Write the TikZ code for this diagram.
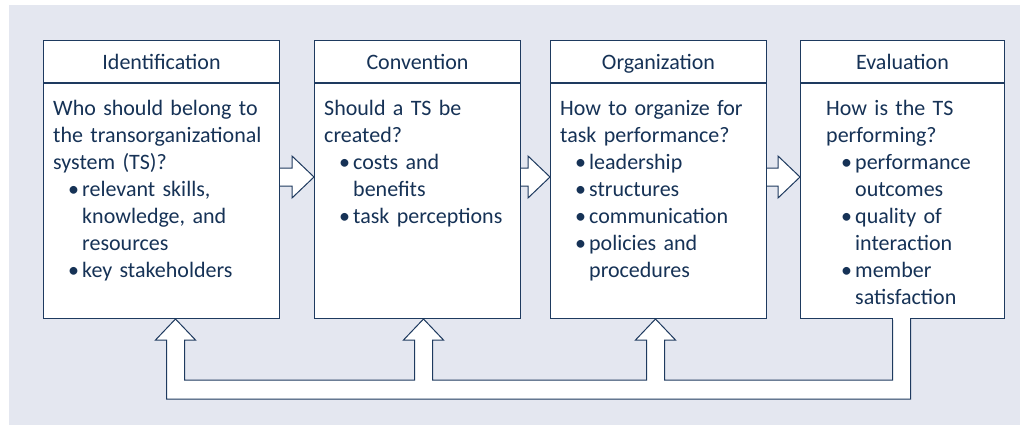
\documentclass[tikz,border=0pt]{standalone}
\usepackage{fontspec}
\setmainfont{Carlito}
\usetikzlibrary{positioning, calc}
\definecolor{tsnavy}{RGB}{22,50,86}
\definecolor{tsline}{RGB}{30,58,95}
\definecolor{tsback}{RGB}{228,231,240}
\newcommand{\tsbul}{\hspace*{15pt}\makebox[14pt][l]{\textbullet}}
\newcommand{\tsind}{\hspace*{29pt}}
\tikzset{
title/.style={
    draw=tsline,
    fill=white,
    line width=1pt,
    minimum height=42pt,
    inner sep=0pt,
    text height=20pt,
    text depth=4pt,
    text=tsnavy,
    font=\fontsize{22}{24}\selectfont
},
frame/.style={
    draw=tsline,
    fill=white,
    line width=1pt,
    minimum height=235pt,
    inner sep=0pt
},
bodytext/.style={
    anchor=base west,
    inner sep=0pt,
    align=left,
    text width=220pt,
    text=tsnavy,
    font=\fontsize{22}{27}\selectfont
},
blockarrow/.style={
    draw=tsline,
    fill=white,
    line width=1pt,
    line join=miter
}
}

\begin{document}
\begin{tikzpicture}[x=1pt, y=1pt]

\useasboundingbox (0,0) rectangle (1020,-425);
\fill[tsback] (9,-5) rectangle (1020,-425);

% TITLES
\node[title, minimum width=236pt, anchor=north west] (ident) at (43,-40) {Identification};
\node[title, minimum width=206pt, right=34pt of ident] (conv) {Convention};
\node[title, minimum width=216pt, right=29pt of conv] (org) {Organization};
\node[title, minimum width=204pt, right=33pt of org] (eval) {Evaluation};

% FRAMES
\node[frame, minimum width=236pt, below=0pt of ident] (identbox) {};
\node[frame, minimum width=206pt, below=0pt of conv] (convbox) {};
\node[frame, minimum width=216pt, below=0pt of org] (orgbox) {};
\node[frame, minimum width=204pt, below=0pt of eval] (evalbox) {};

% TEXTS
\node[bodytext] (identtext) at ($(identbox.north west)+(10,-33)$) {
Who should belong to\\
the transorganizational\\
system (TS)?\\
\tsbul relevant skills,\\
\tsind knowledge, and\\
\tsind resources\\
\tsbul key stakeholders
};
\node[bodytext] (convtext) at ($(convbox.north west)+(10,-33)$) {
Should a TS be\\
created?\\
\tsbul costs and\\
\tsind benefits\\
\tsbul task perceptions
};
\node[bodytext] (orgtext) at ($(orgbox.north west)+(10,-33)$) {
How to organize for\\
task performance?\\
\tsbul leadership\\
\tsbul structures\\
\tsbul communication\\
\tsbul policies and\\
\tsind procedures
};
\node[bodytext] (evaltext) at ($(evalbox.north west)+(26,-33)$) {
How is the TS\\
performing?\\
\tsbul performance\\
\tsind outcomes\\
\tsbul quality of\\
\tsind interaction\\
\tsbul member\\
\tsind satisfaction
};

% ARROWS BETWEEN STAGES
\foreach \a/\b in {ident/conv, conv/org, org/eval} {
    \coordinate (\a out) at ($(\a box.north east)+(0,-94)$);
    \coordinate (\a tip) at (\a out -| \b box.west);
    \draw[blockarrow] ($(\a out)+(0,9)$) -- ($(\a tip)+(-22,9)$) -- ++(0,12)
        -- (\a tip) -- ($(\a tip)+(-22,-21)$) -- ++(0,12) -- ($(\a out)+(0,-9)$);
}

% FEEDBACK LOOP
\coordinate (fb1) at ($(identbox.south)+(14,0)$);
\coordinate (fb2) at ($(convbox.south)+(6,0)$);
\coordinate (fb3) at ($(orgbox.south)+(-3,0)$);
\coordinate (fb4) at ($(evalbox.south)+(-1,0)$);
\draw[blockarrow] ($(fb4)+(9,0)$) -- ($(fb4)+(9,-80)$) -- ($(fb1)+(-9,-80)$)
    -- ($(fb1)+(-9,-21)$) -- ($(fb1)+(-20,-21)$) -- (fb1) -- ($(fb1)+(20,-21)$)
    -- ($(fb1)+(9,-21)$) -- ($(fb1)+(9,-61)$) -- ($(fb2)+(-9,-61)$)
    -- ($(fb2)+(-9,-21)$) -- ($(fb2)+(-20,-21)$) -- (fb2) -- ($(fb2)+(20,-21)$)
    -- ($(fb2)+(9,-21)$) -- ($(fb2)+(9,-61)$) -- ($(fb3)+(-9,-61)$)
    -- ($(fb3)+(-9,-21)$) -- ($(fb3)+(-20,-21)$) -- (fb3) -- ($(fb3)+(20,-21)$)
    -- ($(fb3)+(9,-21)$) -- ($(fb3)+(9,-61)$) -- ($(fb4)+(-9,-61)$)
    -- ($(fb4)+(-9,0)$);
\fill[white] ($(fb4)+(-8.5,-0.6)$) rectangle ($(fb4)+(8.5,1)$);

\end{tikzpicture}
\end{document}
